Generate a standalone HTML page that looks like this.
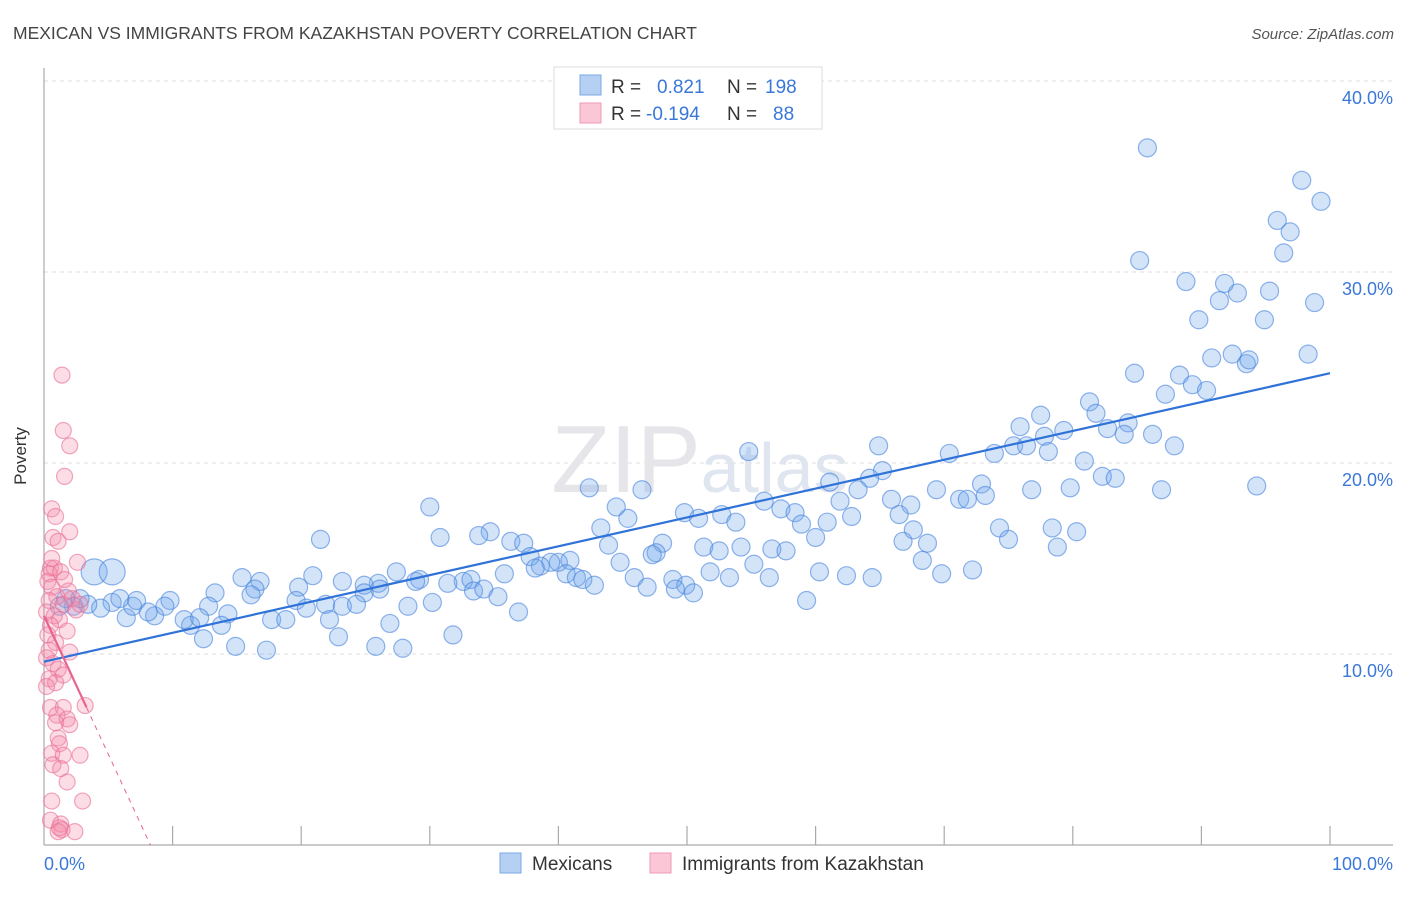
<!DOCTYPE html>
<html><head><meta charset="utf-8"><style>
body{margin:0;background:#fff;font-family:"Liberation Sans",sans-serif;}
svg text{font-family:"Liberation Sans",sans-serif;}
</style></head><body>
<svg width="1406" height="892" viewBox="0 0 1406 892">
<text x="13" y="39" font-size="17.5" fill="#444">MEXICAN VS IMMIGRANTS FROM KAZAKHSTAN POVERTY CORRELATION CHART</text>
<text x="1394" y="39" font-size="15" fill="#555" font-style="italic" text-anchor="end">Source: ZipAtlas.com</text>
<g id="grid"></g>
<text x="700" y="492" font-size="96" fill="#e6e6ea" text-anchor="middle" font-family="Liberation Serif">ZIP<tspan font-size="70" font-family="Liberation Sans" fill="#dfe6f0">atlas</tspan></text>
<line x1="44" y1="68" x2="44" y2="845" stroke="#aaa" stroke-width="1.2"/>
<line x1="44" y1="845" x2="1393" y2="845" stroke="#aaa" stroke-width="1.2"/>
<g id="ticks"></g>
<g id="blue"></g>
<g id="pink"></g>
<g id="trends"></g>
<text x="26" y="456" font-size="17" fill="#333" text-anchor="middle" transform="rotate(-90 26 456)">Poverty</text>
<text x="44" y="870" font-size="18" fill="#3a78d8">0.0%</text>
<text x="1393" y="870" font-size="18" fill="#3a78d8" text-anchor="end">100.0%</text>
<g>
<rect x="554" y="67" width="268" height="62" fill="#fff" stroke="#ddd"/>
<rect x="580" y="75" width="21" height="20" fill="#b5d0f3" stroke="#7aa8e6"/>
<rect x="580" y="103" width="21" height="20" fill="#fbc7d6" stroke="#ef9ab5"/>
<text x="611" y="93" font-size="19" fill="#333">R = <tspan x="657" fill="#3a78d8">0.821</tspan><tspan x="727" fill="#333">N = </tspan><tspan x="765" fill="#3a78d8">198</tspan></text>
<text x="611" y="120" font-size="19" fill="#333">R = <tspan x="646" fill="#3a78d8">-0.194</tspan><tspan x="727" fill="#333">N = </tspan><tspan x="773" fill="#3a78d8">88</tspan></text>
</g>
<g>
<rect x="500" y="853" width="21" height="20" fill="#b5d0f3" stroke="#7aa8e6"/>
<text x="532" y="870" font-size="19" fill="#333">Mexicans</text>
<rect x="650" y="853" width="21" height="20" fill="#fbc7d6" stroke="#ef9ab5"/>
<text x="682" y="870" font-size="19" fill="#333">Immigrants from Kazakhstan</text>
</g>
</svg>
<script>
const yTicks=[10,20,30,40];
const yTickLabels=["10.0%","20.0%","30.0%","40.0%"];
const xTicks=[10,20,30,40,50,60,70,80,90,100];
const blueX=[85.8,97.8,99.3,95.9,96.9,96.4,85.2,88.8,91.8,92.8,95.3,91.4,98.8,89.8,94.9,92.4,90.8,98.3,93.5,93.7,84.8,88.3,89.3,87.2,90.4,81.3,81.8,77.5,84.3,82.7,75.9,79.3,77.8,84.0,86.2,75.4,76.4,87.9,64.9,54.8,70.4,73.9,78.1,80.9,65.2,82.3,83.3,64.2,61.1,72.9,79.8,76.8,86.9,94.3,42.4,46.5,63.3,69.4,73.2,56.0,71.2,71.8,65.9,61.9,67.4,30.0,44.5,57.3,58.4,49.8,52.7,62.8,66.5,45.4,53.8,60.9,58.9,50.9,67.6,74.3,78.4,80.3,43.3,34.7,33.8,60.0,21.5,30.8,75.0,66.8,68.7,36.3,37.3,43.9,48.1,51.3,54.2,78.8,47.6,52.5,56.6,57.7,37.8,47.3,40.0,39.4,40.9,44.8,55.2,68.3,38.6,38.2,40.6,27.4,35.8,51.8,60.3,69.8,72.2,62.4,64.4,53.3,41.4,41.9,20.9,15.4,45.9,48.9,56.4,29.2,28.9,32.6,31.4,26.0,26.1,16.8,33.2,23.2,42.8,46.9,49.9,19.8,49.1,24.9,33.4,34.2,50.5,16.4,35.3,16.1,13.3,19.6,30.2,28.3,24.9,9.8,59.3,21.9,23.2,24.3,12.8,20.4,36.9,14.3,22.2,17.7,18.8,26.9,13.8,11.4,10.9,12.1,8.6,8.1,6.4,9.4,6.9,5.3,7.2,5.9,4.4,3.9,5.3,3.4,2.3,1.7,2.8,1.2,31.8,12.4,22.9,14.9,25.8,27.9,17.3];
const blueY=[36.5,34.8,33.7,32.7,32.1,31.0,30.6,29.5,29.4,28.9,29.0,28.5,28.4,27.5,27.5,25.7,25.5,25.7,25.2,25.4,24.7,24.6,24.1,23.6,23.8,23.2,22.6,22.5,22.1,21.8,21.9,21.7,21.4,21.5,21.5,20.9,20.9,20.9,20.9,20.6,20.5,20.5,20.6,20.1,19.6,19.3,19.2,19.2,19.0,18.9,18.7,18.6,18.6,18.8,18.7,18.6,18.6,18.6,18.3,18.0,18.1,18.1,18.1,18.0,17.8,17.7,17.7,17.6,17.4,17.4,17.3,17.2,17.3,17.1,16.9,16.9,16.8,17.1,16.5,16.6,16.6,16.4,16.6,16.4,16.2,16.1,16.0,16.1,16.0,15.9,15.8,15.9,15.8,15.7,15.8,15.6,15.6,15.6,15.3,15.4,15.5,15.4,15.1,15.2,14.8,14.8,14.9,14.8,14.7,14.9,14.6,14.5,14.2,14.3,14.2,14.3,14.3,14.2,14.4,14.1,14.0,14.0,14.0,13.9,14.1,14.0,14.0,13.9,14.0,13.9,13.8,13.8,13.7,13.7,13.4,13.8,13.9,13.8,13.6,13.5,13.6,13.5,13.4,13.6,13.3,13.4,13.2,13.4,13.0,13.1,13.2,12.8,12.7,12.5,13.2,12.8,12.8,12.6,12.5,12.6,12.5,12.4,12.2,12.1,11.8,11.8,11.8,11.6,11.5,11.5,11.8,11.9,12.0,12.2,11.9,12.5,12.5,12.7,12.8,12.9,12.4,14.3,14.3,12.6,12.5,12.9,12.9,12.5,11.0,10.8,10.9,10.4,10.4,10.3,10.2];
const pinkX=[1.4,1.5,2.0,1.6,0.6,0.9,2.0,0.7,1.1,2.6,0.5,0.4,0.8,1.3,0.3,0.6,1.0,0.4,1.5,0.2,0.8,1.2,0.5,1.8,0.3,0.9,0.4,2.0,0.2,0.7,1.1,1.5,0.4,0.9,0.2,2.2,2.5,1.9,2.8,1.6,0.6,0.5,1.5,3.2,1.0,1.8,0.9,2.0,1.1,1.2,0.6,1.5,2.8,0.7,1.3,1.8,0.6,3.0,0.5,1.3,1.4,1.1,2.4,1.2];
const pinkY=[24.6,21.7,20.9,19.3,17.6,17.2,16.4,16.1,15.9,14.8,14.5,14.2,14.5,14.3,13.8,13.5,13.0,12.8,12.6,12.2,12.0,11.8,11.5,11.2,11.0,10.6,10.2,10.1,9.8,9.5,9.2,8.9,8.7,8.5,8.3,12.9,12.3,13.3,12.6,13.9,15.0,7.2,7.2,7.3,6.8,6.6,6.4,6.3,5.6,5.3,4.8,4.7,4.7,4.2,4.0,3.3,2.3,2.3,1.3,1.1,0.8,0.7,0.7,0.9];
const blueTrend=[9.6,0.151];
const pinkTrend=[12.0,-1.45];
const NS="http://www.w3.org/2000/svg";
const X0=44,X1=1330,Y0=845,Y40=81;
function sx(v){return X0+(X1-X0)*v/100;}
function sy(v){return Y0-(Y0-Y40)*v/40;}
function mk(tag,attrs,parent){const e=document.createElementNS(NS,tag);for(const k in attrs)e.setAttribute(k,attrs[k]);parent.appendChild(e);return e;}
const grid=document.getElementById('grid');
yTicks.forEach((t,i)=>{
 const l=mk('line',{x1:44,x2:1393,y1:sy(t),y2:sy(t),stroke:'#ddd','stroke-dasharray':'4,4'},grid);
 
 
 const tx=mk('text',{x:1393,y:sy(t)+23,'font-size':18,fill:'#3a78d8','text-anchor':'end'},grid);
 tx.textContent=yTickLabels[i];
 
 
});
const tk=document.getElementById('ticks');
xTicks.forEach(t=>{
 const l=mk('line',{x1:sx(t),x2:sx(t),y1:826,y2:845,stroke:'#aaa','stroke-width':1.2},tk);
 
 
});
const bg=document.getElementById('blue');
blueX.forEach((v,i)=>{
 const big=(v<6&&blueY[i]>14);
 const c=mk('circle',{cx:sx(v),cy:sy(blueY[i]),r:big?13:9,fill:'rgba(110,165,235,0.3)',stroke:'rgba(70,130,220,0.6)','stroke-width':1.2},bg);
 
 
});
const pg=document.getElementById('pink');
pinkX.forEach((v,i)=>{
 const c=mk('circle',{cx:sx(v),cy:sy(pinkY[i]),r:8,fill:'rgba(245,140,170,0.3)',stroke:'rgba(232,110,150,0.6)','stroke-width':1.2},pg);
 
 
});
const tg=document.getElementById('trends');
const bl=mk('line',{x1:sx(0),y1:sy(blueTrend[0]),x2:sx(100),y2:sy(blueTrend[0]+100*blueTrend[1]),stroke:'#2f72d8','stroke-width':2.2},tg);


const pEnd=3.3,pZero=-pinkTrend[0]/pinkTrend[1];
const pl=mk('line',{x1:sx(0),y1:sy(pinkTrend[0]),x2:sx(pEnd),y2:sy(pinkTrend[0]+pEnd*pinkTrend[1]),stroke:'#e8638e','stroke-width':2.2},tg);


const pd=mk('line',{x1:sx(pEnd),y1:sy(pinkTrend[0]+pEnd*pinkTrend[1]),x2:sx(pZero),y2:sy(0),stroke:'#e8638e','stroke-width':1,'stroke-dasharray':'5,5'},tg);


</script>
</body></html>
